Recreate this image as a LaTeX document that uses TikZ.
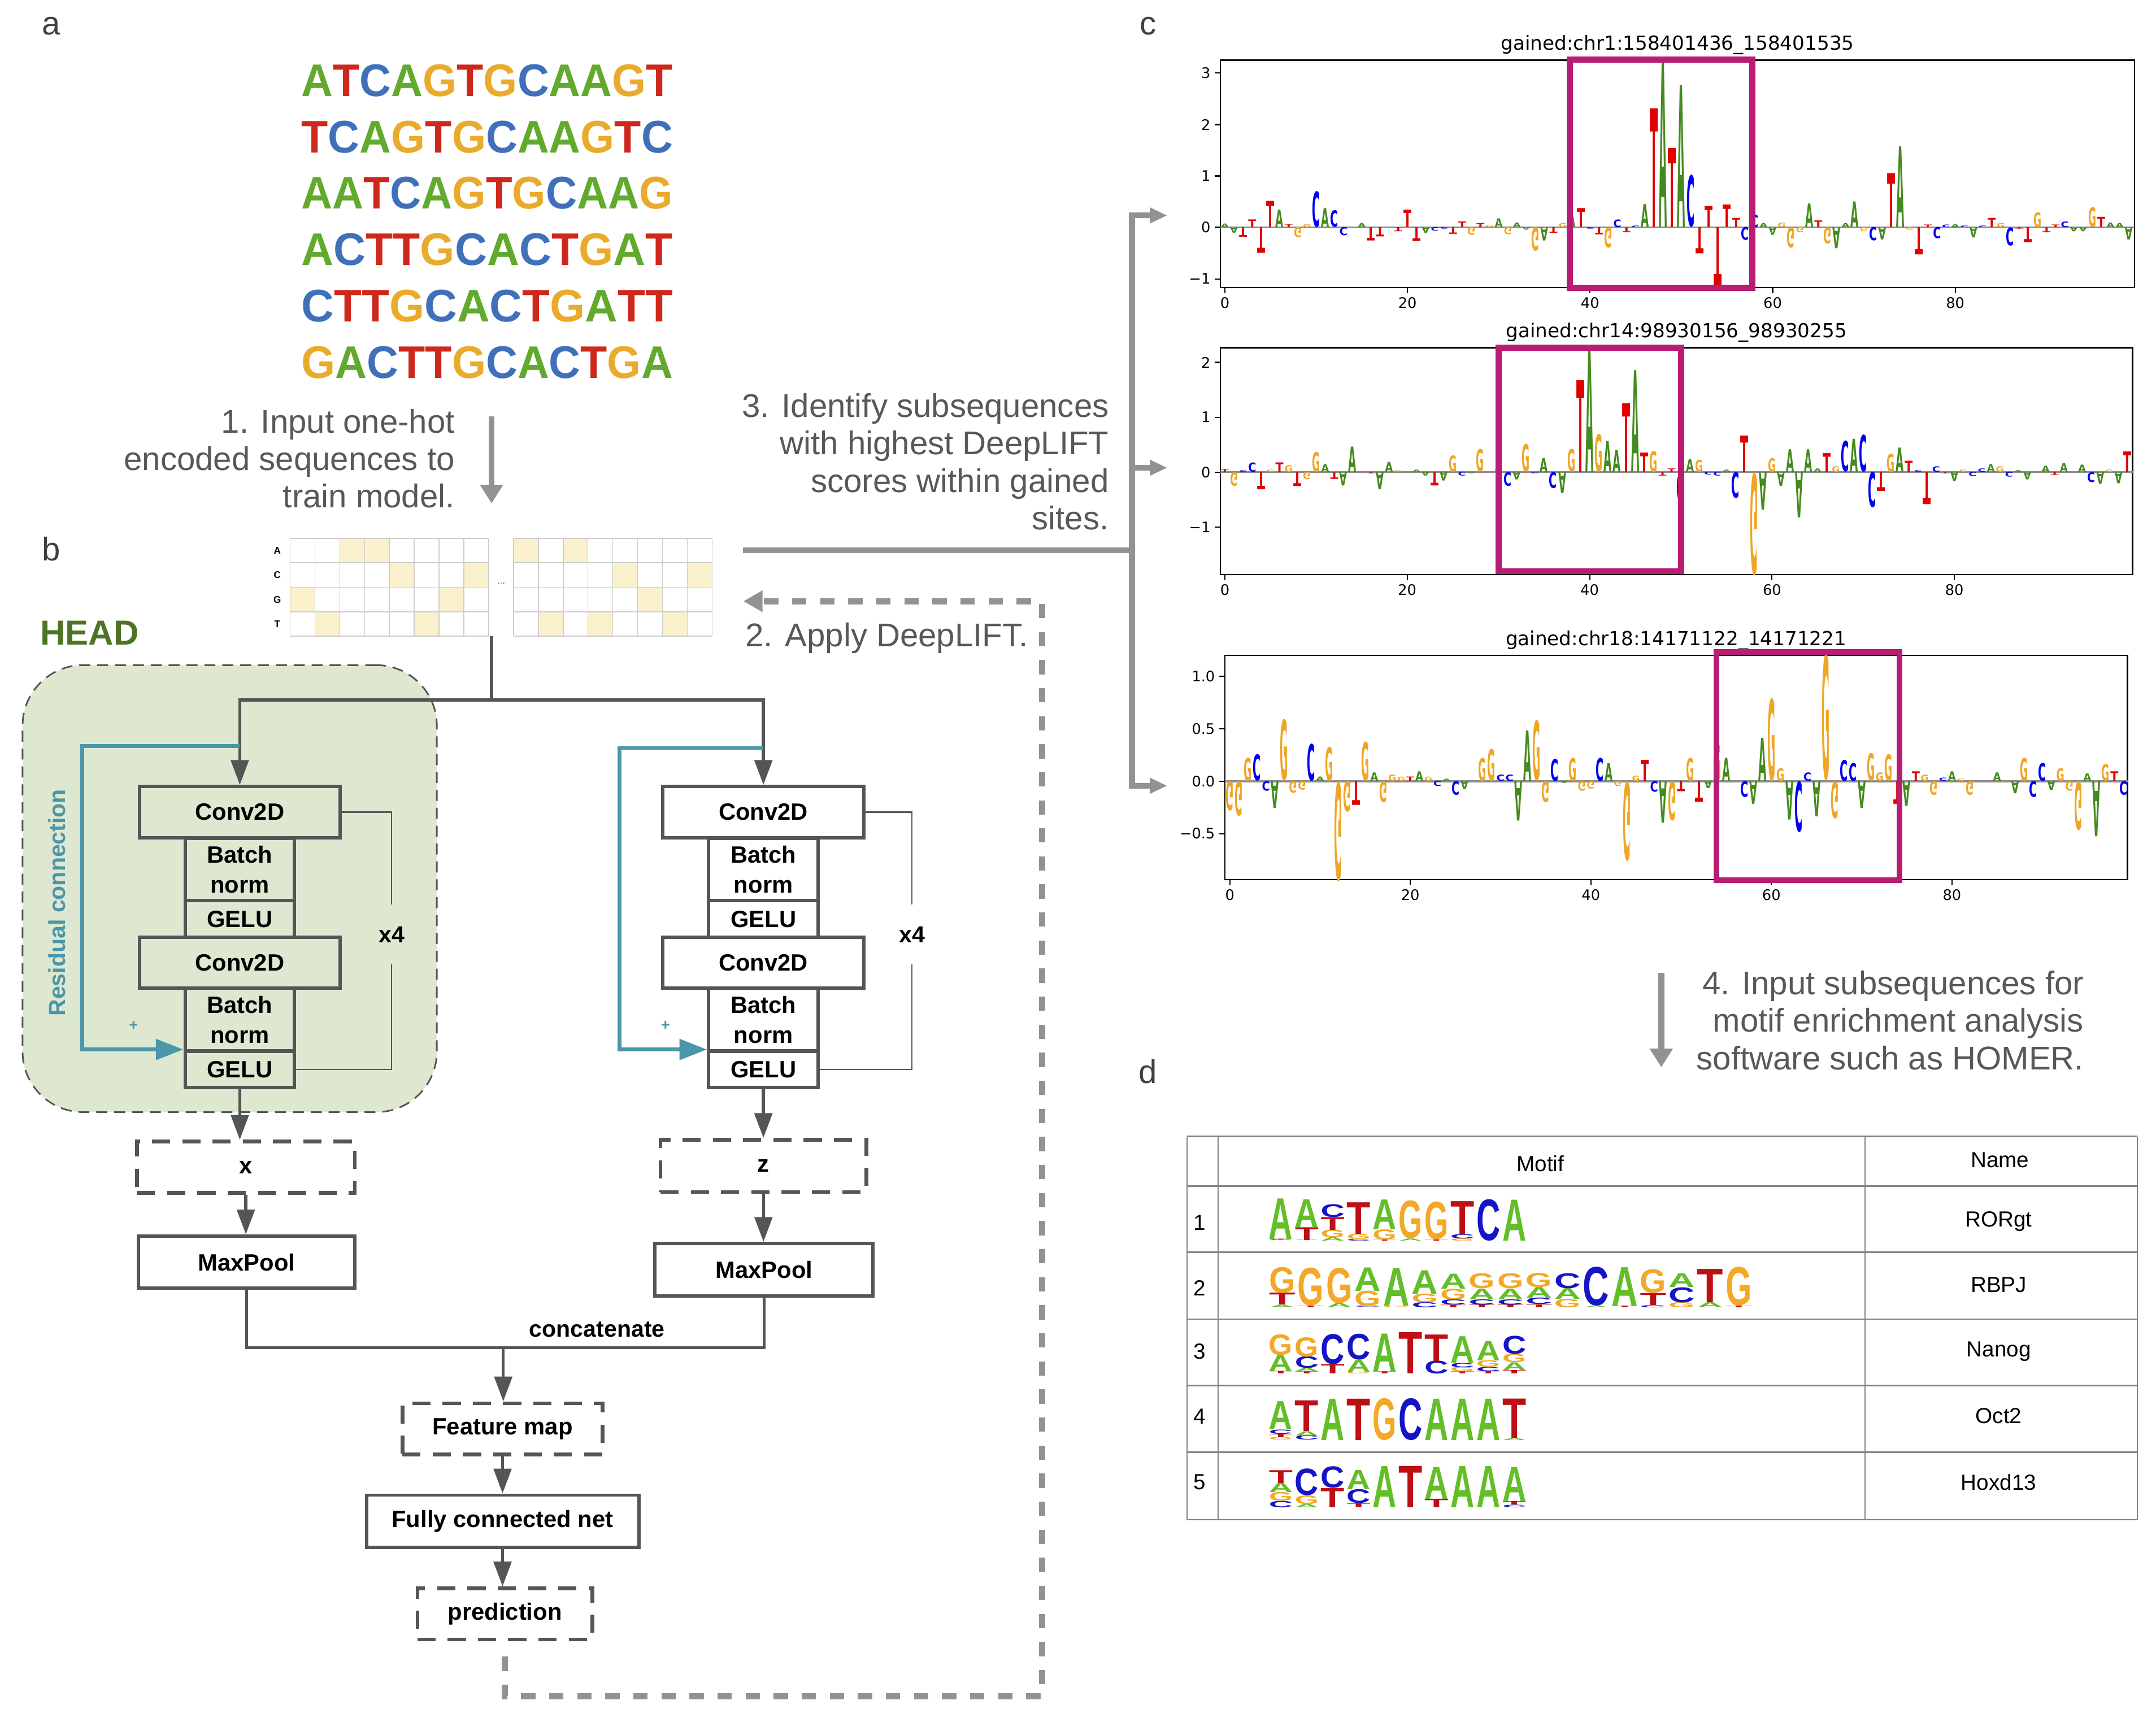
\documentclass[tikz,border=0pt]{standalone}
\usepackage{fontspec}
\usepackage{graphicx}
\setmainfont{Liberation Sans}
\newfontfamily\plotfont{DejaVu Sans}
\usetikzlibrary{arrows.meta}
\definecolor{boxgray}{RGB}{85,85,85}
\definecolor{headfill}{RGB}{222,232,209}
\definecolor{headtextc}{RGB}{79,115,38}
\definecolor{resteal}{RGB}{75,150,168}
\definecolor{stepgray}{RGB}{146,146,146}
\definecolor{steptextc}{RGB}{88,88,88}
\definecolor{panelc}{RGB}{64,64,64}
\definecolor{hotcell}{RGB}{250,241,204}
\definecolor{cellgray}{RGB}{205,205,205}
\definecolor{magbox}{RGB}{183,29,114}
\definecolor{zerogray}{RGB}{140,140,140}
\definecolor{tabgray}{RGB}{130,130,130}
\definecolor{seqA}{RGB}{98,170,45}
\definecolor{seqC}{RGB}{64,112,186}
\definecolor{seqG}{RGB}{234,170,44}
\definecolor{seqT}{RGB}{206,40,28}
\definecolor{lgA}{RGB}{68,138,30}
\definecolor{lgC}{RGB}{0,0,245}
\definecolor{lgG}{RGB}{240,165,35}
\definecolor{lgT}{RGB}{225,0,0}
\definecolor{hmA}{RGB}{99,190,40}
\definecolor{hmC}{RGB}{20,20,200}
\definecolor{hmG}{RGB}{243,168,38}
\definecolor{hmT}{RGB}{190,15,20}
\tikzstyle{layer}=[draw=boxgray, line width=1.75pt, inner sep=0pt, align=center, font=\fontsize{12.2}{15.5}\selectfont\bfseries]
\tikzstyle{hlayer}=[layer, fill=headfill]
\tikzstyle{wlayer}=[layer, fill=white]
\tikzstyle{dlayer}=[layer, fill=white, dash pattern=on 0.33cm off 0.22cm, line width=1.9pt]
\tikzstyle{conv}=[minimum width=3.65cm, minimum height=0.93cm]
\tikzstyle{bnorm}=[minimum width=1.99cm, minimum height=1.14cm]
\tikzstyle{gelu}=[minimum width=1.99cm, minimum height=0.665cm]
\tikzstyle{flow}=[draw=boxgray, line width=1.6pt, -{Triangle[length=0.45cm, width=0.32cm]}]
\tikzstyle{trunk}=[draw=boxgray, line width=1.6pt]
\tikzstyle{repeatline}=[draw=boxgray, line width=0.7pt]
\tikzstyle{repeatlabel}=[inner sep=0pt, minimum height=1.07cm, font=\fontsize{12}{14}\selectfont\bfseries]
\tikzstyle{residual}=[draw=resteal, line width=2pt, -{Triangle[length=0.5cm, width=0.37cm]}]
\tikzstyle{restext}=[text=resteal, inner sep=0pt, font=\fontsize{12}{14}\selectfont\bfseries]
\tikzstyle{plus}=[text=resteal, inner sep=0pt, font=\fontsize{8}{9}\selectfont\bfseries]
\tikzstyle{headbox}=[draw=boxgray, fill=headfill, line width=0.85pt, dash pattern=on 0.2cm off 0.125cm, rounded corners=1.1cm, minimum width=7.53cm, minimum height=8.125cm]
\tikzstyle{headlabel}=[text=headtextc, inner sep=0pt, font=\fontsize{18}{20}\selectfont\bfseries]
\tikzstyle{stepline}=[draw=stepgray, line width=3pt]
\tikzstyle{steparrow}=[stepline, -{Triangle[length=0.34cm, width=0.4cm]}]
\tikzstyle{forkarrow}=[stepline, -{Triangle[length=0.32cm, width=0.27cm]}]
\tikzstyle{feedback}=[draw=stepgray, line width=3.2pt, dash pattern=on 0.26cm off 0.25cm, -{Triangle[length=0.35cm, width=0.37cm]}]
\tikzstyle{steptext}=[text=steptextc, inner sep=0pt, align=right, font=\fontsize{17}{19.4}\selectfont]
\tikzstyle{panel}=[text=panelc, inner sep=0pt, font=\fontsize{17}{20}\selectfont]
\tikzstyle{dnaline}=[anchor=north west, inner sep=0pt, font=\bfseries]
\tikzstyle{cellline}=[draw=cellgray, line width=0.5pt]
\tikzstyle{baselabel}=[inner sep=0pt, font=\fontsize{5}{6}\selectfont\bfseries]
\tikzstyle{dots}=[text=boxgray, inner sep=0pt, font=\fontsize{5}{6}\selectfont]
\tikzstyle{catlabel}=[inner sep=0pt, font=\fontsize{12}{14}\selectfont\bfseries]
\tikzstyle{plotframe}=[draw=black, line width=0.75pt]
\tikzstyle{zeroline}=[draw=zerogray, line width=1pt]
\tikzstyle{plottick}=[draw=black, line width=0.6pt]
\tikzstyle{ticklabel}=[inner sep=2pt, font=\fontsize{7.5}{9}\plotfont]
\tikzstyle{plottitle}=[inner sep=0pt, font=\fontsize{10}{12}\plotfont]
\tikzstyle{hilite}=[draw=magbox, line width=3.1pt]
\tikzstyle{lgletter}=[inner sep=0pt, outer sep=0pt, anchor=south, font=\plotfont\bfseries]
\tikzstyle{hmletter}=[inner sep=0pt, outer sep=0pt, anchor=south, font=\bfseries]
\tikzstyle{tabline}=[draw=tabgray, line width=0.8pt]
\tikzstyle{tabvline}=[draw=tabgray, line width=0.6pt]
\tikzstyle{tabtext}=[inner sep=0pt, font=\fontsize{11.3}{13}\selectfont]
\newcommand{\baseA}{\textcolor{seqA}{A}}
\newcommand{\baseC}{\textcolor{seqC}{C}}
\newcommand{\baseG}{\textcolor{seqG}{G}}
\newcommand{\baseT}{\textcolor{seqT}{T}}
\def\colorseq#1{\ifx#1\relax\else\csname base#1\endcsname\expandafter\colorseq\fi}
\newcommand{\seqline}[1]{\resizebox{6.75cm}{0.58cm}{\colorseq#1\relax}}
\newcommand{\attrlogo}[6]{%
  \foreach \p/\lb/\val in {#6} {
    \pgfmathsetmacro\lgx{#1+\p*#2}
    \pgfmathsetmacro\lgh{abs(\val)*#4*0.025}
    \ifdim\val pt>0pt
      \node[lgletter] (#5\p) at (\lgx,#3) {\resizebox{0.145cm}{\lgh cm}{\color{lg\lb}\lb}};
    \else
      \begin{scope}[shift={(\lgx,#3)}, yscale=-1]
        \node[lgletter, transform shape] (#5\p) at (0,0) {\resizebox{0.145cm}{\lgh cm}{\color{lg\lb}\lb}};
      \end{scope}
    \fi
  }
}
\newcommand{\homerlogo}[6]{%
  \pgfmathsetmacro\hmw{#2*0.023}
  \foreach \stack [count=\ci from 0] in {#6} {
    \pgfmathsetmacro\hmx{#1+(\ci+0.5)*#2}
    \gdef\hmcum{0}
    \foreach \lb/\hv [count=\li] in \stack {
      \pgfmathsetmacro\hmy{#3-\hmcum*#4}
      \pgfmathsetmacro\hmh{\hv*#4*0.025}
      \node[hmletter] (#5c\ci l\li) at (\hmx,\hmy) {\resizebox{\hmw cm}{\hmh cm}{\color{hm\lb}\lb}};
      \pgfmathsetmacro\hmtmp{\hmcum+\hv}
      \xdef\hmcum{\hmtmp}
    }
  }
}

\begin{document}
\begin{tikzpicture}[x=0.025cm, y=-0.025cm]
    \useasboundingbox (0,0) rectangle (1568,1258.6);
    \node[panel, anchor=base] (labA) at (37.4,25.1) {a};
    \node[panel, anchor=base] (labB) at (37.4,408) {b};
    \node[panel, anchor=base] (labC) at (835,25.1) {c};
    \node[panel, anchor=base] (labD) at (835,788) {d};
    \node[dnaline] (seq1) at (219,46.5) {\seqline{ATCAGTGCAAGT}};
    \node[dnaline] (seq2) at (219,87.5) {\seqline{TCAGTGCAAGTC}};
    \node[dnaline] (seq3) at (219,128.5) {\seqline{AATCAGTGCAAG}};
    \node[dnaline] (seq4) at (219,169.5) {\seqline{ACTTGCACTGAT}};
    \node[dnaline] (seq5) at (219,210.5) {\seqline{CTTGCACTGATT}};
    \node[dnaline] (seq6) at (219,251.5) {\seqline{GACTTGCACTGA}};
    \node[steptext, anchor=north east] (step1) at (331,297.2) {1. Input one-hot\\encoded sequences to\\train model.};
    \coordinate (step1top) at (357.5,302.7);
    \coordinate (step1tip) at (357.5,366.2);
    \draw[steparrow] (step1top) -- (step1tip);
    \foreach \c/\b in {0/2,1/3,2/0,3/0,4/1,5/3,6/2,7/1}
        \fill[hotcell] ({211+18.06*\c},{391.6+17.78*\b}) rectangle ++(18.06,17.78);
    \foreach \c/\b in {0/0,1/3,2/0,3/3,4/1,5/2,6/3,7/1}
        \fill[hotcell] ({373.4+18.06*\c},{391.6+17.78*\b}) rectangle ++(18.06,17.78);
    \foreach \gx in {211,373.4} {
        \foreach \i in {0,...,8}
            \draw[cellline] ({\gx+18.06*\i},391.6) -- ++(0,71.1);
        \foreach \j in {0,...,4}
            \draw[cellline] (\gx,{391.6+17.78*\j}) -- ++(144.5,0);
    }
    \foreach \lb [count=\j from 0] in {A,C,G,T}
        \node[baselabel] (row\lb) at (201.7,{400.5+17.78*\j}) {\lb};
    \node[dots] (gap) at (364.5,424.4) {...};
    \node[headbox] (head) at (167.05,646.3) {};
    \node[headlabel, anchor=base west] (headtxt) at (28.9,468.9) {HEAD};
    \node[restext, rotate=90] (restxt) at (41.3,656.5) {Residual connection};
    \coordinate (onehot) at (357.5,462.7);
    \coordinate (split) at (357.5,509.2);
    \draw[trunk] (onehot) -- (split);
    \node[hlayer, conv] (conv1L) at (174.4,590.7) {Conv2D};
    \node[hlayer, bnorm] (bn1L) at (174.4,632.4) {Batch\\norm};
    \node[hlayer, gelu] (gelu1L) at (174.4,668.45) {GELU};
    \node[hlayer, conv] (conv2L) at (174.4,700.15) {Conv2D};
    \node[hlayer, bnorm] (bn2L) at (174.4,741.55) {Batch\\norm};
    \node[hlayer, gelu] (gelu2L) at (174.4,777.85) {GELU};
    \node[wlayer, conv] (conv1R) at (555.2,590.7) {Conv2D};
    \node[wlayer, bnorm] (bn1R) at (555.2,632.4) {Batch\\norm};
    \node[wlayer, gelu] (gelu1R) at (555.2,668.45) {GELU};
    \node[wlayer, conv] (conv2R) at (555.2,700.15) {Conv2D};
    \node[wlayer, bnorm] (bn2R) at (555.2,741.55) {Batch\\norm};
    \node[wlayer, gelu] (gelu2R) at (555.2,777.85) {GELU};
    \draw[flow] (split) -| (conv1L.north);
    \draw[flow] (split) -| (conv1R.north);
    \coordinate (resL) at (174.4,542.5);
    \coordinate (resLbend) at (59.7,542.5);
    \draw[residual] (resL) -- (resLbend) |- (gelu2L.north west);
    \coordinate (resR) at (555.2,544);
    \coordinate (resRbend) at (450.6,544);
    \draw[residual] (resR) -- (resRbend) |- (gelu2R.north west);
    \node[plus] (plusL) at (97.1,745.9) {+};
    \node[plus] (plusR) at (484,745.9) {+};
    \node[repeatlabel] (x4L) at (284.8,679.6) {x4};
    \node[repeatlabel] (x4R) at (663.2,679.6) {x4};
    \draw[repeatline] (conv1L.east) -| (x4L.north);
    \draw[repeatline] (gelu2L.east) -| (x4L.south);
    \draw[repeatline] (conv1R.east) -| (x4R.north);
    \draw[repeatline] (gelu2R.east) -| (x4R.south);
    \node[dlayer, minimum width=3.96cm, minimum height=0.935cm] (xbox) at (178.8,849) {x};
    \node[dlayer, minimum width=3.74cm, minimum height=0.95cm] (zbox) at (555.25,848) {z};
    \node[wlayer, minimum width=3.94cm, minimum height=0.95cm] (poolL) at (179.3,918) {MaxPool};
    \node[wlayer, minimum width=3.96cm, minimum height=0.95cm] (poolR) at (555.65,923.45) {MaxPool};
    \draw[flow] (gelu2L.south) -- (gelu2L.south |- xbox.north);
    \draw[flow] (xbox.south) -- (xbox.south |- poolL.north);
    \draw[flow] (gelu2R.south) -- (gelu2R.south |- zbox.north);
    \draw[flow] (zbox.south) -- (zbox.south |- poolR.north);
    \coordinate (concat) at (366,980.3);
    \draw[trunk] (poolL.south) |- (concat);
    \draw[trunk] (poolR.south) |- (concat);
    \node[catlabel] (catlabel) at (434.2,967.1) {concatenate};
    \node[dlayer, minimum width=3.64cm, minimum height=0.93cm] (fmap) at (365.5,1039.2) {Feature map};
    \node[wlayer, minimum width=4.95cm, minimum height=0.95cm] (fcn) at (365.5,1106.45) {Fully connected net};
    \node[dlayer, minimum width=3.18cm, minimum height=0.93cm] (pred) at (367.2,1173.75) {prediction};
    \draw[flow] (concat) -- (concat |- fmap.north);
    \draw[flow] (fmap.south) -- (fmap.south |- fcn.north);
    \draw[flow] (fcn.south) -- (fcn.south |- pred.north);
    \coordinate (fbturn) at (757.8,1233.9);
    \coordinate (fbtip) at (540.6,437.3);
    \draw[feedback] ([yshift=-0.28cm]pred.south) |- (fbturn) |- (fbtip);
    \node[steptext, anchor=base east] (step2) at (748,470.2) {2. Apply DeepLIFT.};
    \coordinate (step3start) at (540.2,400.3);
    \coordinate (fork) at (823.2,400.3);
    \coordinate (toplot1) at (849,156.7);
    \coordinate (toplot2) at (849,340.2);
    \coordinate (toplot3) at (849,571.5);
    \draw[stepline] (step3start) -- (fork);
    \draw[forkarrow] (fork) |- (toplot1);
    \draw[forkarrow] (fork) |- (toplot2);
    \draw[forkarrow] (fork) |- (toplot3);
    \node[steptext, anchor=north east] (step3) at (806.7,285.8) {3. Identify subsequences\\with highest DeepLIFT\\scores within gained\\sites.};
    \coordinate (step4top) at (1208.2,707.4);
    \coordinate (step4tip) at (1208.2,776.3);
    \draw[steparrow] (step4top) -- (step4tip);
    \node[steptext, anchor=north east] (step4) at (1515.7,705.8) {4. Input subsequences for\\motif enrichment analysis\\software such as HOMER.};
    \node[plottitle, anchor=base] (title1) at (1220,36.5) {gained:chr1:158401436\_158401535};
    \draw[plotframe] (887.6,43.7) rectangle (1552.3,209.1);
    \draw[zeroline] (887.6,165.4) -- (1552.3,165.4);
    \foreach \t/\tl in {3/3,2/2,1/1,0/0,-1/−1}
        \draw[plottick] (887.6,{165.4-37.4*\t}) -- ++(-4,0) node[ticklabel, anchor=east] (p1y\t) {\tl};
    \foreach \t in {0,20,40,60,80}
        \draw[plottick] ({890.8+6.64*\t},209.1) -- ++(0,4) node[ticklabel, anchor=north] (p1x\t) {\t};
    \attrlogo{890.8}{6.64}{165.4}{37.4}{p1l}{0/A/0.07, 1/A/-0.11, 2/T/-0.19, 3/T/0.15, 4/T/-0.5, 5/T/0.51, 6/A/0.34, 7/T/0.06, 8/G/-0.2, 9/G/0.06, 10/C/0.69, 11/A/0.37, 12/C/0.32, 13/C/-0.16, 15/A/0.08, 16/T/-0.26, 17/T/-0.18, 19/T/-0.08, 20/T/0.34, 21/T/-0.27, 22/A/-0.11, 23/C/-0.07, 24/C/-0.03, 25/T/-0.13, 26/T/0.11, 27/G/-0.15, 28/T/0.08, 29/G/0.04, 30/A/0.17, 31/G/-0.14, 32/A/0.09, 33/A/-0.05, 34/G/-0.45, 35/A/-0.26, 36/T/-0.11, 37/G/0.08, 38/A/0.32, 39/T/0.37, 40/C/-0.03, 41/T/-0.14, 42/G/-0.39, 43/C/0.15, 44/T/-0.1, 45/C/0.03, 46/A/0.45, 47/T/2.31, 48/A/3.2, 49/T/1.54, 50/A/2.76, 51/C/1.0, 52/T/-0.51, 53/T/0.41, 54/T/-1.13, 55/T/0.44, 56/T/0.18, 57/C/-0.25, 58/C/0.24, 59/A/0.08, 60/A/-0.15, 61/G/0.09, 62/G/-0.39, 63/G/-0.1, 64/A/0.46, 65/T/0.13, 66/G/-0.31, 67/A/-0.41, 68/A/0.08, 69/A/0.5, 70/G/-0.08, 71/C/-0.26, 72/A/-0.24, 73/T/1.05, 74/A/1.57, 75/G/-0.05, 76/T/-0.53, 77/T/0.05, 78/C/-0.22, 79/C/0.05, 80/A/0.06, 81/C/0.03, 82/A/-0.2, 83/C/0.03, 84/T/0.18, 85/G/0.08, 86/C/-0.35, 87/T/-0.03, 88/T/-0.29, 89/G/0.29, 90/T/-0.1, 91/T/0.05, 92/C/0.11, 93/A/-0.08, 94/A/-0.08, 95/G/0.38, 96/T/0.2, 97/A/0.09, 98/A/0.08, 99/A/-0.24}
    \draw[hilite] (1141.7,43.4) rectangle (1274.4,209.4);
    \node[plottitle, anchor=base] (title2) at (1219.3,245.5) {gained:chr14:98930156\_98930255};
    \draw[plotframe] (887.6,252.8) rectangle (1551,417.9);
    \draw[zeroline] (887.6,343.4) -- (1551,343.4);
    \foreach \t/\tl in {2/2,1/1,0/0,-1/−1}
        \draw[plottick] (887.6,{343.4-39.9*\t}) -- ++(-4,0) node[ticklabel, anchor=east] (p2y\t) {\tl};
    \foreach \t in {0,20,40,60,80}
        \draw[plottick] ({890.8+6.632*\t},417.9) -- ++(0,4) node[ticklabel, anchor=north] (p2x\t) {\t};
    \attrlogo{890.8}{6.632}{343.4}{39.9}{p2l}{0/T/0.05, 1/G/-0.25, 2/C/0.03, 3/C/0.17, 4/T/-0.32, 5/G/0.04, 6/T/0.17, 7/G/0.12, 8/T/-0.26, 9/G/-0.14, 10/G/0.36, 11/A/0.14, 12/T/-0.13, 13/A/-0.25, 14/A/0.46, 16/T/-0.03, 17/A/-0.32, 18/A/0.18, 19/G/0.03, 21/A/0.04, 22/A/-0.07, 23/T/-0.25, 24/A/-0.16, 25/G/0.3, 26/C/-0.07, 27/A/-0.02, 28/G/0.41, 30/G/0.07, 31/C/-0.25, 32/A/-0.14, 33/G/0.5, 34/C/-0.02, 35/A/0.25, 36/C/-0.29, 37/A/-0.39, 38/G/0.41, 39/T/1.67, 40/A/2.23, 41/G/0.68, 42/A/0.56, 43/A/0.4, 44/T/1.25, 45/A/1.85, 46/T/0.35, 47/G/0.38, 48/T/-0.07, 49/T/0.06, 50/C/-0.56, 51/A/0.23, 52/G/0.22, 53/C/-0.05, 54/C/-0.07, 55/A/0.04, 56/C/-0.47, 57/T/0.66, 58/G/-1.85, 59/A/-0.69, 60/G/0.25, 61/A/-0.26, 62/A/0.41, 63/A/-0.83, 64/A/0.41, 65/A/0.06, 66/T/0.34, 67/G/0.1, 68/C/0.56, 69/A/0.6, 70/C/0.67, 71/C/-0.64, 72/T/-0.35, 73/G/0.33, 74/A/0.44, 75/T/0.2, 76/C/0.03, 77/T/-0.59, 78/C/0.1, 79/T/-0.03, 80/A/-0.17, 81/G/0.04, 82/C/-0.08, 83/C/0.06, 84/A/0.14, 85/G/0.1, 86/C/-0.09, 87/A/0.03, 88/A/-0.14, 90/A/0.11, 91/T/-0.06, 92/A/0.16, 94/A/0.13, 95/C/-0.18, 96/A/-0.22, 97/G/0.04, 98/A/-0.21, 99/T/0.37}
    \draw[hilite] (1090,252.8) rectangle (1222.7,415.5);
    \node[plottitle, anchor=base] (title3) at (1219,469.3) {gained:chr18:14171122\_14171221};
    \draw[plotframe] (890.8,476.6) rectangle (1547.3,639.8);
    \draw[zeroline] (890.8,568.2) -- (1547.3,568.2);
    \foreach \t/\tl in {1/1.0,0.5/0.5,0/0.0,-0.5/−0.5}
        \draw[plottick] (890.8,{568.2-76.2*\t}) -- ++(-4,0) node[ticklabel, anchor=east] (p3y\t) {\tl};
    \foreach \t in {0,20,40,60,80}
        \draw[plottick] ({894.4+6.565*\t},639.8) -- ++(0,4) node[ticklabel, anchor=north] (p3x\t) {\t};
    \attrlogo{894.4}{6.565}{568.2}{76.2}{p3l}{0/G/-0.28, 1/G/-0.33, 2/G/0.22, 3/C/0.25, 4/C/-0.09, 5/A/-0.26, 6/G/0.58, 7/G/-0.11, 8/G/-0.08, 9/C/0.35, 10/A/0.04, 11/G/0.32, 12/G/-0.94, 13/G/-0.29, 14/T/-0.23, 15/G/0.37, 16/A/0.08, 17/G/-0.2, 18/G/0.06, 19/G/0.04, 20/T/0.04, 21/A/0.09, 22/G/0.04, 23/C/-0.05, 24/A/0.02, 25/C/-0.13, 26/A/-0.08, 28/G/0.22, 29/G/0.3, 30/C/0.06, 31/C/0.06, 32/A/-0.38, 33/A/0.48, 34/G/0.57, 35/G/-0.2, 36/C/0.21, 37/A/-0.02, 38/G/0.22, 39/G/-0.09, 40/G/-0.07, 41/C/0.22, 42/A/0.17, 43/G/-0.05, 44/G/-0.75, 45/G/0.05, 46/T/0.2, 47/C/-0.1, 48/A/-0.4, 49/G/-0.37, 50/T/-0.1, 51/G/0.22, 52/T/-0.2, 53/A/-0.07, 54/G/0.35, 55/A/0.22, 57/C/-0.15, 58/A/-0.22, 59/A/0.41, 60/G/0.78, 61/G/0.12, 62/A/-0.37, 63/C/-0.48, 64/C/0.08, 65/A/-0.34, 66/G/1.2, 67/G/-0.35, 68/C/0.2, 69/C/0.17, 70/A/-0.26, 71/G/0.26, 72/G/0.08, 73/G/0.25, 74/T/-0.22, 75/A/-0.24, 76/T/0.09, 77/G/0.06, 78/G/-0.13, 79/C/0.03, 80/A/0.09, 81/G/0.02, 82/G/-0.13, 85/A/0.08, 87/A/-0.12, 88/G/0.22, 89/C/-0.15, 90/C/0.17, 91/A/-0.09, 92/G/0.12, 93/G/-0.09, 94/G/-0.46, 95/A/0.07, 96/A/-0.53, 97/G/0.16, 98/T/0.09, 99/C/-0.13}
    \draw[hilite] (1248.3,474.4) rectangle (1381.4,640.2);
    \foreach \ty in {826.6,862.8,910.8,959.4,1007.8,1056.2,1105.3}
        \draw[tabline] (863.3,\ty) -- (1554.4,\ty);
    \foreach \tx in {863.3,885.9,1356.3,1554.4}
        \draw[tabvline] (\tx,826.6) -- (\tx,1105.3);
    \node[tabtext, anchor=base] (hdrMotif) at (1120.2,851.9) {Motif};
    \node[tabtext, anchor=base] (hdrName) at (1454.5,849) {Name};
    \foreach \n/\nm/\nb/\mb in {1/RORgt/894.9/892.4, 2/RBPJ/942.2/939.9, 3/Nanog/988.6/986.7, 4/Oct2/1035.5/1035.1, 5/Hoxd13/1083.3/1083.7} {
        \node[tabtext, anchor=base] (num\n) at (872.4,\nb) {\n};
        \node[tabtext, anchor=base] (name\n) at (1453.6,\mb) {\nm};
    }
    \homerlogo{922.1}{18.86}{902.6}{31}{m1}{{C/0.02,T/0.02,A/0.95},{G/0.02,T/0.3,A/0.65},{A/0.08,G/0.18,T/0.3,C/0.3},{C/0.04,G/0.12,T/0.74},{T/0.03,G/0.24,A/0.7},{A/0.05,G/0.88},{T/0.03,G/0.88},{G/0.05,C/0.1,T/0.78},{C/0.96},{A/0.96}}
    \homerlogo{922.1}{20.75}{951}{31}{m2}{{A/0.06,T/0.28,G/0.6},{T/0.04,G/0.88},{A/0.1,G/0.82},{C/0.03,G/0.35,A/0.55},{G/0.04,A/0.88},{C/0.12,G/0.2,A/0.55},{T/0.06,C/0.12,G/0.25,A/0.35},{T/0.07,C/0.12,A/0.25,G/0.35},{T/0.07,C/0.12,A/0.25,G/0.35},{T/0.07,C/0.15,A/0.25,G/0.33},{G/0.2,A/0.25,C/0.35},{A/0.04,C/0.9},{T/0.04,A/0.9},{C/0.05,T/0.28,G/0.55},{G/0.12,C/0.35,A/0.32},{A/0.12,T/0.78},{T/0.04,G/0.9}}
    \homerlogo{922.1}{18.86}{999.2}{31}{m3}{{T/0.06,A/0.38,G/0.48},{T/0.05,A/0.08,C/0.27,G/0.45},{T/0.22,C/0.7},{G/0.04,A/0.28,C/0.6},{T/0.05,A/0.88},{T/0.97},{C/0.3,T/0.62},{T/0.05,G/0.1,C/0.1,A/0.62},{T/0.06,C/0.1,G/0.15,A/0.45},{T/0.08,A/0.18,G/0.2,C/0.42}}
    \homerlogo{922.1}{18.86}{1047.4}{31}{m4}{{G/0.06,T/0.08,C/0.1,A/0.66},{C/0.1,A/0.1,T/0.72},{A/0.97},{T/0.97},{G/0.97},{C/0.97},{A/0.97},{A/0.97},{A/0.97},{A/0.05,T/0.92}}
    \homerlogo{922.1}{18.86}{1096.4}{31}{m5}{{C/0.15,G/0.2,A/0.22,T/0.3},{A/0.08,G/0.2,C/0.62},{T/0.45,C/0.5},{T/0.1,C/0.32,A/0.45},{A/0.97},{T/0.97},{T/0.2,A/0.75},{A/0.97},{A/0.97},{C/0.06,T/0.08,A/0.8}}
\end{tikzpicture}
\end{document}
